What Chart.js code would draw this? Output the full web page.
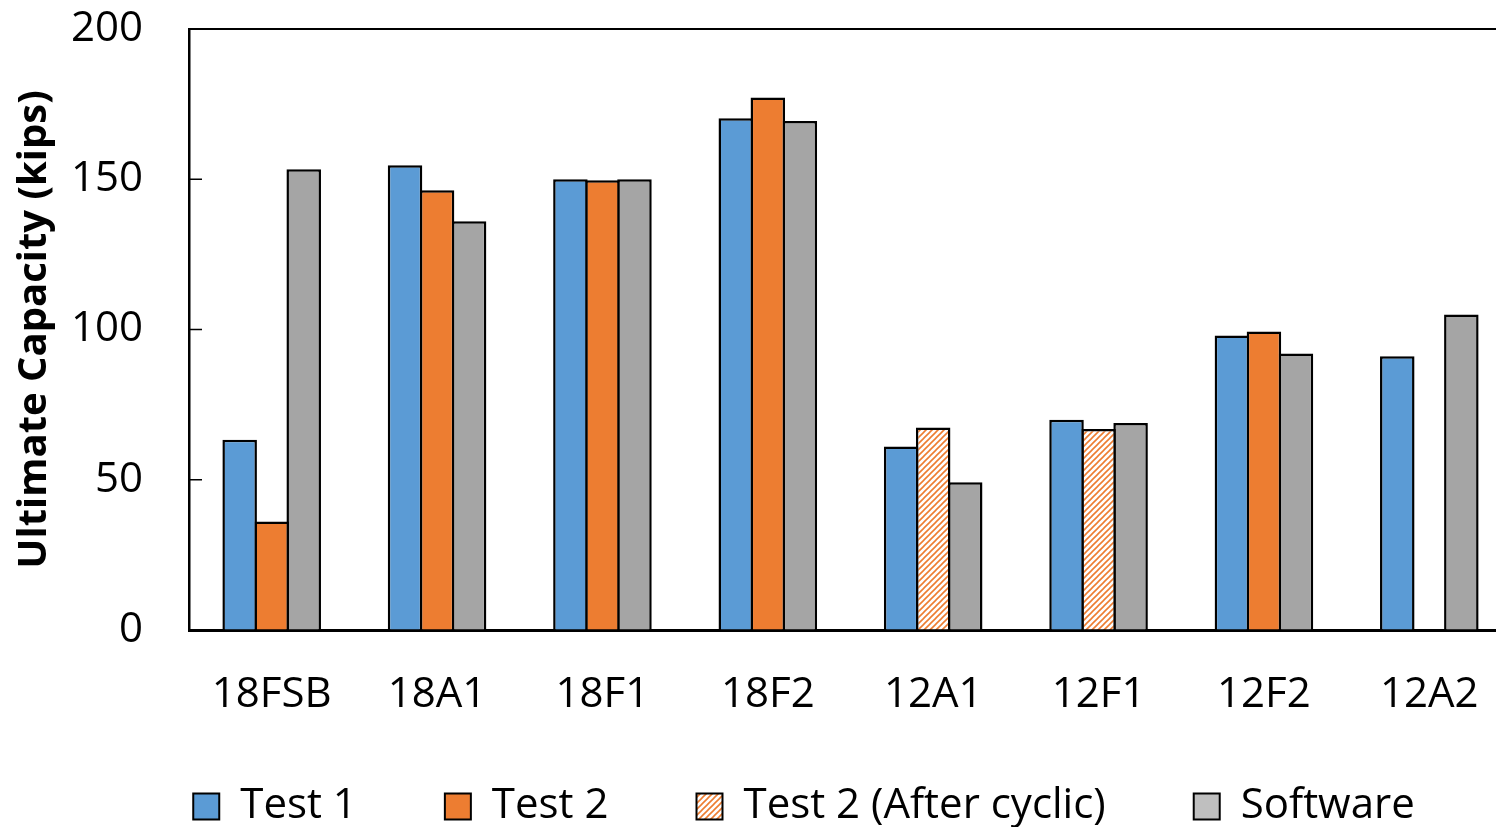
<!DOCTYPE html>
<html>
<head>
<meta charset="utf-8">
<script src="https://cdn.jsdelivr.net/npm/chart.js@4.4.1/dist/chart.umd.min.js"></script>
<style>
  html, body { margin: 0; padding: 0; background: #fff; overflow: hidden; }
  #wrap { position: relative; width: 1512px; height: 827px; }
</style>
</head>
<body>
<div id="wrap"><canvas id="chart"></canvas></div>
<script>
// Specimens and measured ultimate capacities (kips)
const categories = ['18FSB', '18A1', '18F1', '18F2', '12A1', '12F1', '12F2', '12A2'];
const test1 = [63.3, 154.7, 150.0, 170.3, 61.1, 70.0, 98.0, 91.1];
const test2 = [36.1, 146.3, 149.7, 177.2, null, null, 99.3, null];
const test2AfterCyclic = [null, null, null, null, 67.4, 66.9, null, null];
const software = [153.3, 136.0, 150.0, 169.4, 49.2, 68.9, 92.0, 105.0];
const yTicks = [0, 50, 100, 150, 200];

const BLUE = '#5B9BD5';
const ORANGE = '#ED7D31';
const GRAY = '#A5A5A5';
const FONT = '"Open Sans", "Noto Sans", sans-serif';

// Orange diagonal hatch on white, used for the post-cyclic Test 2 bars
function hatchPattern(size, width) {
  const c = document.createElement('canvas');
  c.width = c.height = size;
  const g = c.getContext('2d');
  g.fillStyle = '#ffffff';
  g.fillRect(0, 0, size, size);
  g.strokeStyle = ORANGE;
  g.lineWidth = width;
  g.beginPath();
  g.moveTo(-1, size + 1); g.lineTo(size + 1, -1);
  g.moveTo(-1, 1); g.lineTo(1, -1);
  g.moveTo(size - 1, size + 1); g.lineTo(size + 1, size - 1);
  g.stroke();
  return g.createPattern(c, 'repeat');
}
const HATCH = hatchPattern(6, 1.6);

// Top frame line plus inward tick marks on the value axis
const frame = {
  id: 'frame',
  afterDraw(chart) {
    const { ctx, chartArea: a, scales: { y } } = chart;
    ctx.save();
    ctx.strokeStyle = '#000';
    ctx.lineWidth = 2;
    ctx.beginPath();
    ctx.moveTo(a.left, a.top);
    ctx.lineTo(a.right, a.top);
    ctx.stroke();
    ctx.lineWidth = 1.5;
    ctx.beginPath();
    y.ticks.forEach(t => {
      const py = y.getPixelForValue(t.value);
      ctx.moveTo(a.left, py);
      ctx.lineTo(a.left + 13, py);
    });
    ctx.stroke();
    ctx.restore();
  }
};

// Place the legend row beneath the category labels
const legendRow = {
  id: 'legendRow',
  afterLayout(chart) {
    const l = chart.legend;
    const cx = 804;
    const half = chart.width / 2;
    l.left = cx - half;
    l.right = cx + half;
    l.top = 785.5 - l.options.labels.padding;
  }
};

function draw() {
  // bars slightly wider than their slot so neighbouring outlines overlap into one line
  const barStyle = { borderColor: '#000', borderWidth: 2.5, categoryPercentage: 0.581, barPercentage: 1.078 };
  new Chart(document.getElementById('chart'), {
    type: 'bar',
    data: {
      labels: categories,
      datasets: [
        { label: 'Test 1', data: test1, backgroundColor: BLUE, stack: 's1', ...barStyle },
        { label: 'Test 2', data: test2, backgroundColor: ORANGE, stack: 's2', ...barStyle },
        { label: 'Test 2 (After cyclic)', data: test2AfterCyclic, backgroundColor: HATCH, stack: 's2', ...barStyle },
        { label: 'Software', data: software, backgroundColor: GRAY, stack: 's3', ...barStyle }
      ]
    },
    options: {
      responsive: true,
      maintainAspectRatio: false,
      animation: false,
      layout: { padding: { top: 29, left: 0, right: 0, bottom: 0 } },
      plugins: {
        tooltip: { enabled: false },
        legend: {
          position: 'bottom',
          maxHeight: 100,
          labels: {
            color: '#000',
            font: { family: FONT, size: 42 },
            boxWidth: 26,
            boxHeight: 26,
            padding: 88,
            generateLabels(chart) {
              const items = Chart.defaults.plugins.legend.labels.generateLabels(chart);
              items.forEach(it => {
                it.lineWidth = 2;
                it.strokeStyle = '#000';
                if (it.text === 'Software') it.fillStyle = '#BFBFBF';
              });
              return items;
            }
          }
        }
      },
      scales: {
        x: {
          grid: { display: true, drawOnChartArea: false, drawTicks: false },
          border: { display: true, color: '#000', width: 3 },
          ticks: { color: '#000', font: { family: FONT, size: 42 }, padding: 40, maxRotation: 0 },
          afterFit(s) { s.height = 97; s.paddingLeft = 0; s.paddingRight = 0; }
        },
        y: {
          min: 0,
          max: 200,
          afterBuildTicks(s) { s.ticks = yTicks.map(v => ({ value: v })); },
          grid: { display: true, drawOnChartArea: false, drawTicks: false },
          border: { display: true, color: '#000', width: 2.5 },
          ticks: { color: '#000', font: { family: FONT, size: 42 }, padding: 46 },
          title: {
            display: true,
            text: 'Ultimate Capacity (kips)',
            color: '#000',
            font: { family: FONT, size: 40, weight: 'bold' },
            padding: { top: 11, bottom: 0 }
          },
          afterFit(s) { s.width = 189; s.paddingTop = 0; s.paddingBottom = 0; }
        }
      }
    },
    plugins: [frame, legendRow]
  });
}

if (document.fonts && document.fonts.load) {
  Promise.all([
    document.fonts.load('42px "Open Sans"'),
    document.fonts.load('bold 40px "Open Sans"')
  ]).then(draw, draw);
} else {
  draw();
}
</script>
</body>
</html>
